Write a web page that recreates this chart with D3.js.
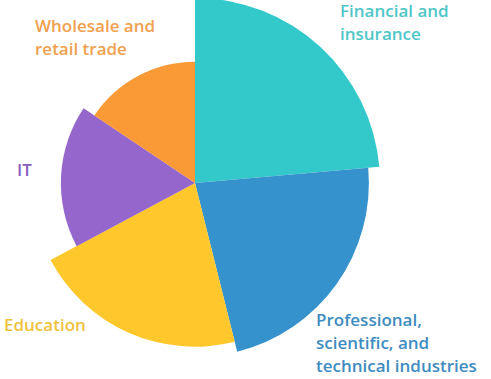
<!DOCTYPE html>
<html>
<head>
<meta charset="utf-8">
<script src="https://cdn.jsdelivr.net/npm/d3@7"></script>
<style>
  body { margin: 0; background: #fff; }
  text { font-family: "Open Sans", sans-serif; font-weight: 600; font-size: 17px; }
</style>
</head>
<body>
<div id="chart"></div>
<script>
// sectors, clockwise from 12 o'clock
var categories = ['Financial and insurance', 'Professional, scientific, and technical industries', 'Education', 'IT', 'Wholesale and retail trade'];
var shares = [23.6, 22.5, 21.1, 17.2, 15.6];   // angle of each slice
var sizes = [100, 94, 88.5, 72.5, 65.5];         // radius of each slice
var colors = ['#33C9CB', '#3592CC', '#FEC82C', '#9566CC', '#FA9A36'];
var labelColors = ['#4EC6C8', '#3E8CC0', '#EFC23E', '#8560BD', '#F0A04E'];
var labelLines = [['Financial and', 'insurance'], ['Professional,', 'scientific, and', 'technical industries'], ['Education'], ['IT'], ['Wholesale and', 'retail trade']];
var labelPos = [[340, 17], [316, 326], [4, 331], [17, 176], [35, 32]];

var width = 491, height = 379;
var cx = 195, cy = 183;

var data = categories.map(function(c, i) {
  return { name: c, share: shares[i], size: sizes[i], color: colors[i] };
});

var svg = d3.select('#chart').append('svg')
    .attr('width', width)
    .attr('height', height);

var rScale = d3.scaleLinear()
    .domain([0, 100])
    .range([0, 185]);

var pie = d3.pie()
    .sort(null)
    .value(function(d) { return d.share; });

var arc = d3.arc()
    .innerRadius(0)
    .outerRadius(function(d) { return rScale(d.data.size); });

var g = svg.append('g')
    .attr('transform', 'translate(' + cx + ',' + cy + ')');

g.selectAll('path')
    .data(pie(data))
    .enter().append('path')
    .attr('d', arc)
    .style('fill', function(d) { return d.data.color; });

var labels = svg.selectAll('.label')
    .data(labelLines)
    .enter().append('text')
    .attr('class', 'label')
    .attr('x', function(d, i) { return labelPos[i][0]; })
    .attr('y', function(d, i) { return labelPos[i][1]; })
    .style('fill', function(d, i) { return labelColors[i]; });

labels.selectAll('tspan')
    .data(function(d, i) { return d.map(function(t) { return { t: t, x: labelPos[i][0] }; }); })
    .enter().append('tspan')
    .attr('x', function(d) { return d.x; })
    .attr('dy', function(d, j) { return j == 0 ? 0 : 23; })
    .text(function(d) { return d.t; });
</script>
</body>
</html>
